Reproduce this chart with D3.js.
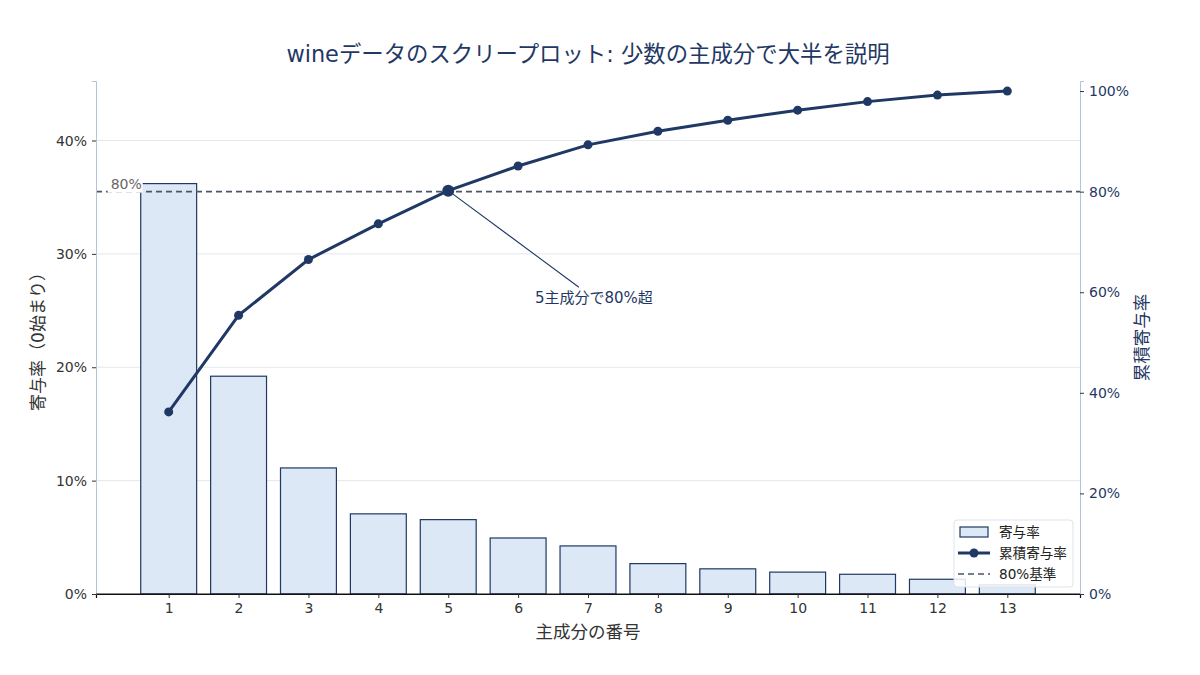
<!DOCTYPE html>
<html>
<head>
<meta charset="utf-8">
<script src="https://cdn.jsdelivr.net/npm/d3@7"></script>
<style>
  body { margin: 0; background: #fff; }
  text { font-family: "DejaVu Sans", "Noto Sans CJK JP", sans-serif; }
</style>
</head>
<body>
<div id="vis"></div>
<script>
// data
const components = [1, 2, 3, 4, 5, 6, 7, 8, 9, 10, 11, 12, 13];
const ratio = [0.3620, 0.1921, 0.1112, 0.0707, 0.0656, 0.0494, 0.0424, 0.0268, 0.0222, 0.0193, 0.0174, 0.0130, 0.0080];
const cumulative = [0.362, 0.554, 0.665, 0.736, 0.802, 0.851, 0.893, 0.920, 0.942, 0.962, 0.979, 0.992, 1.000];
const leftTicks = [0, 0.1, 0.2, 0.3, 0.4];
const rightTicks = [0, 0.2, 0.4, 0.6, 0.8, 1.0];
const threshold = 0.8;

const width = 1200, height = 675;
const margin = ({top: 81, right: 120, bottom: 81, left: 96});
const navy = '#1f3864';

const svg = d3.create('svg')
    .attr('width', width)
    .attr('height', height);

// scales
const x = d3.scaleLinear()
    .domain([-0.04, 14.04])
    .range([margin.left, width - margin.right]);
const yLeft = d3.scaleLinear()
    .domain([0, 0.4525])
    .range([height - margin.bottom, margin.top]);
const yRight = d3.scaleLinear()
    .domain([0, 1.02])
    .range([height - margin.bottom, margin.top]);

const fmt = d3.format('.0%');

// grid
svg.append('g')
    .selectAll('line')
    .data(leftTicks.slice(1))
    .join('line')
    .attr('x1', margin.left)
    .attr('x2', width - margin.right)
    .attr('y1', d => yLeft(d))
    .attr('y2', d => yLeft(d))
    .attr('stroke', '#e3e7ee')
    .attr('stroke-width', 1);

// bars
const barW = (x(1.8) - x(1));
svg.append('g')
    .selectAll('rect')
    .data(components)
    .join('rect')
    .attr('x', d => x(d) - barW / 2)
    .attr('y', (d, i) => yLeft(ratio[i]))
    .attr('width', barW)
    .attr('height', (d, i) => yLeft(0) - yLeft(ratio[i]))
    .attr('fill', '#dce8f5')
    .attr('stroke', navy)
    .attr('stroke-width', 1.2);

// 80% line
svg.append('line')
    .attr('x1', margin.left)
    .attr('x2', width - margin.right)
    .attr('y1', yRight(threshold))
    .attr('y2', yRight(threshold))
    .attr('stroke', '#4a5568')
    .attr('stroke-width', 1.6)
    .attr('stroke-dasharray', '6,4');

// label with a white box behind it
const thrLabel = svg.append('g');
const thrText = thrLabel.append('text')
    .attr('x', x(0.17))
    .attr('y', yRight(threshold) - 3)
    .attr('font-size', 14)
    .attr('fill', '#666')
    .text('80%');
thrLabel.insert('rect', 'text')
    .attr('x', x(0.17) - 3)
    .attr('y', yRight(threshold) - 17)
    .attr('width', 35)
    .attr('height', 18)
    .attr('fill', '#fff');

// annotation
svg.append('line')
    .attr('x1', x(5))
    .attr('y1', yRight(cumulative[4]))
    .attr('x2', x(6.87))
    .attr('y2', yRight(0.61))
    .attr('stroke', navy)
    .attr('stroke-width', 1.1);

svg.append('text')
    .attr('x', x(6.24))
    .attr('y', yRight(0.578))
    .attr('font-size', 15)
    .attr('fill', navy)
    .text('5主成分で80%超');

// cumulative line
const line = d3.line()
    .x((d, i) => x(components[i]))
    .y(d => yRight(d));

svg.append('path')
    .datum(cumulative)
    .attr('d', line)
    .attr('fill', 'none')
    .attr('stroke', navy)
    .attr('stroke-width', 3);

svg.append('g')
    .selectAll('circle')
    .data(cumulative)
    .join('circle')
    .attr('cx', (d, i) => x(components[i]))
    .attr('cy', d => yRight(d))
    .attr('r', (d, i) => i === 4 ? 6 : 4.5)
    .attr('fill', navy);

// axes
const xAxis = svg.append('g')
    .attr('transform', `translate(0, ${height - margin.bottom})`)
    .call(d3.axisBottom(x).tickValues(components).tickFormat(d3.format('d')).tickSizeOuter(0).tickSize(4).tickPadding(5));
xAxis.select('.domain').attr('stroke', '#111').attr('stroke-width', 1.2);
xAxis.selectAll('.tick line').attr('stroke', '#333');
xAxis.selectAll('text').attr('font-size', 14).attr('fill', '#333');

const leftAxis = svg.append('g')
    .attr('transform', `translate(${margin.left}, 0)`)
    .call(d3.axisLeft(yLeft).tickValues(leftTicks).tickFormat(fmt).tickSizeOuter(0).tickSize(4).tickPadding(5));
leftAxis.select('.domain').attr('stroke', '#b3c3d9');
leftAxis.selectAll('.tick line').attr('stroke', '#333');
leftAxis.selectAll('text').attr('font-size', 14).attr('fill', '#333');

const rightAxis = svg.append('g')
    .attr('transform', `translate(${width - margin.right}, 0)`)
    .call(d3.axisRight(yRight).tickValues(rightTicks).tickFormat(fmt).tickSizeOuter(0).tickSize(4).tickPadding(5));
rightAxis.select('.domain').attr('stroke', '#b3c3d9');
rightAxis.selectAll('.tick line').attr('stroke', navy);
rightAxis.selectAll('text').attr('font-size', 14).attr('fill', navy);

// redraw bottom spine on top
svg.append('line')
    .attr('x1', margin.left)
    .attr('x2', width - margin.right)
    .attr('y1', height - margin.bottom)
    .attr('y2', height - margin.bottom)
    .attr('stroke', '#111')
    .attr('stroke-width', 1.2);

// titles
svg.append('text')
    .attr('x', (margin.left + width - margin.right) / 2)
    .attr('y', 62)
    .attr('text-anchor', 'middle')
    .attr('font-size', 22.4)
    .attr('fill', navy)
    .text('wineデータのスクリープロット: 少数の主成分で大半を説明');

svg.append('text')
    .attr('x', (margin.left + width - margin.right) / 2)
    .attr('y', 638)
    .attr('text-anchor', 'middle')
    .attr('font-size', 17.5)
    .attr('fill', '#333')
    .text('主成分の番号');

svg.append('text')
    .attr('transform', `translate(44, ${(margin.top + height - margin.bottom) / 2}) rotate(-90)`)
    .attr('text-anchor', 'middle')
    .attr('font-size', 17)
    .attr('font-family', '"Noto Sans CJK JP", sans-serif')
    .attr('fill', '#333')
    .text('寄与率（0始まり）');

svg.append('text')
    .attr('transform', `translate(1148, ${(margin.top + height - margin.bottom) / 2}) rotate(-90)`)
    .attr('text-anchor', 'middle')
    .attr('font-size', 17.5)
    .attr('fill', navy)
    .text('累積寄与率');

// legend
const legend = svg.append('g').attr('transform', 'translate(954, 520)');
legend.append('rect')
    .attr('width', 119).attr('height', 67).attr('rx', 3)
    .attr('fill', 'rgba(255,255,255,0.85)')
    .attr('stroke', '#dde3ec');
legend.append('rect')
    .attr('x', 6).attr('y', 7).attr('width', 28).attr('height', 10)
    .attr('fill', '#dce8f5').attr('stroke', navy).attr('stroke-width', 1.2);
legend.append('line')
    .attr('x1', 4).attr('x2', 36).attr('y1', 33).attr('y2', 33)
    .attr('stroke', navy).attr('stroke-width', 3);
legend.append('circle').attr('cx', 20).attr('cy', 33).attr('r', 4.5).attr('fill', navy);
legend.append('line')
    .attr('x1', 4).attr('x2', 36).attr('y1', 54).attr('y2', 54)
    .attr('stroke', '#4a5568').attr('stroke-width', 1.6).attr('stroke-dasharray', '6,4');
const labels = ['寄与率', '累積寄与率', '80%基準'];
legend.selectAll('text.lab')
    .data(labels)
    .join('text')
    .attr('class', 'lab')
    .attr('x', 45)
    .attr('y', (d, i) => 17 + i * 21)
    .attr('font-size', 13.6)
    .attr('fill', '#222')
    .text(d => d);

document.getElementById('vis').appendChild(svg.node());
</script>
</body>
</html>
